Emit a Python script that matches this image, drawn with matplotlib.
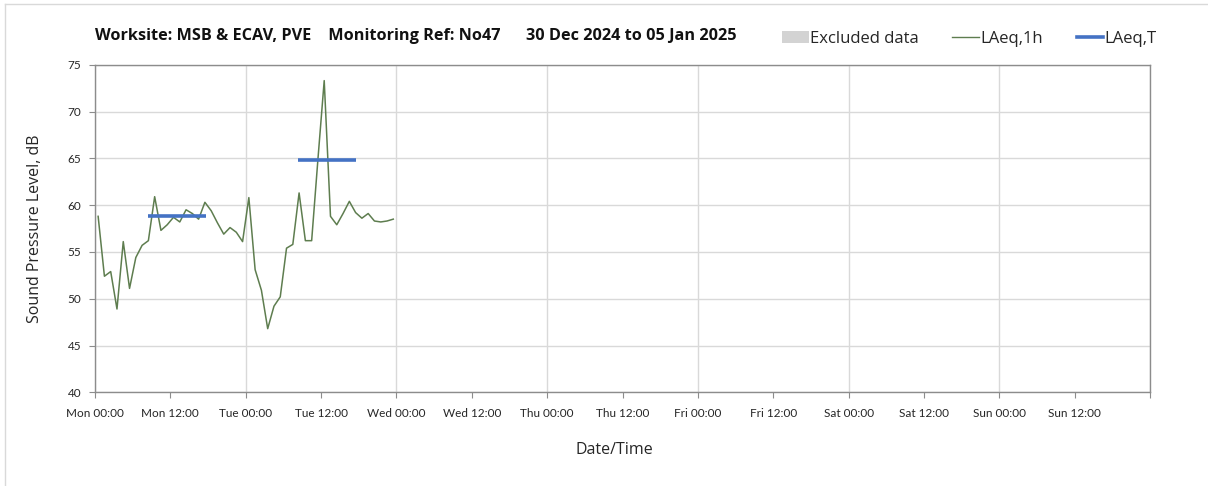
import numpy as np
import matplotlib as mpl
import matplotlib.pyplot as plt
from matplotlib.lines import Line2D
from matplotlib.patches import Patch

mpl.rcParams.update({
    "font.family": ["Lato", "DejaVu Sans"],
    "axes.edgecolor": "#8c8c8c",
    "xtick.color": "#8c8c8c",
    "ytick.color": "#8c8c8c",
    "xtick.labelcolor": "#262626",
    "ytick.labelcolor": "#262626",
})

# hourly LAeq values, Mon 00:30 onwards
laeq_1h = [58.8, 52.4, 52.9, 48.9, 56.1, 51.1, 54.4, 55.7, 56.2, 60.9,
           57.3, 57.9, 58.7, 58.2, 59.5, 59.1, 58.5, 60.3, 59.4, 58.1,
           56.9, 57.6, 57.1, 56.1, 60.8, 53.1, 50.9, 46.8, 49.2, 50.2,
           55.4, 55.8, 61.3, 56.2, 56.2, 64.9, 73.3, 58.8, 57.9, 59.1,
           60.4, 59.2, 58.6, 59.1, 58.3, 58.2, 58.3, 58.5]
hours_1h = np.arange(len(laeq_1h)) + 0.5

# LAeq,T periods (start hour, end hour, level)
laeq_t_start = [8.4, 32.4]
laeq_t_end = [17.6, 41.6]
laeq_t_val = [58.8, 64.8]

days = ["Mon", "Tue", "Wed", "Thu", "Fri", "Sat", "Sun"]
major_labels = [f"{d} 00:00" for d in days] + [""]
minor_labels = [f"{d} 12:00" for d in days]

fig = plt.figure(figsize=(12.08, 4.86), dpi=100)
ax = fig.add_axes([95 / 1208, 1 - 392.3 / 486, 1055 / 1208, 327.6 / 486])

ax.plot(hours_1h, laeq_1h, color="#5e7d4f", lw=1.1, label="LAeq,1h")
for s, e, v in zip(laeq_t_start, laeq_t_end, laeq_t_val):
    ax.plot([s, e], [v, v], color="#4472c4", lw=2.6, solid_capstyle="butt")

ax.set_xlim(0, 168)
ax.set_ylim(40, 75)
ax.set_yticks(np.arange(40, 76, 5))
ax.set_xticks(np.arange(0, 169, 24))
ax.set_xticklabels(major_labels)
ax.set_xticks(np.arange(12, 168, 24), minor=True)
ax.set_xticklabels(minor_labels, minor=True)
ax.tick_params(axis="both", which="both", labelsize=8.5, length=4, width=0.8)
ax.tick_params(axis="x", which="both", pad=7)
ax.tick_params(axis="y", pad=6)
ax.grid(axis="y", color="#d9d9d9", lw=1)
ax.grid(axis="x", which="major", color="#d9d9d9", lw=1)
ax.set_axisbelow(True)
for sp in ax.spines.values():
    sp.set_linewidth(1)

ax.set_ylabel("Sound Pressure Level, dB", fontsize=11.5, color="#262626",
              family=["Open Sans", "DejaVu Sans"], va="center")
ax.yaxis.set_label_coords(-60 / 1055, 0.5)
ax.set_xlabel("Date/Time", fontsize=11.5, color="#262626",
              family=["Open Sans", "DejaVu Sans"], va="center")
ax.xaxis.set_label_coords(519 / 1055, -(450 - 392.3) / 327.6)

fig.text(95 / 1208, 1 - 36 / 486,
         "Worksite: MSB & ECAV, PVE    Monitoring Ref: No47      30 Dec 2024 to 05 Jan 2025",
         fontsize=11.7, fontweight="bold", color="#111111", va="center",
         family=["Open Sans", "DejaVu Sans"])

handles = [Patch(facecolor="#d3d3d3", edgecolor="none"),
           Line2D([], [], color="#5e7d4f", lw=1),
           Line2D([], [], color="#4472c4", lw=2.6)]
fig.legend(handles, ["Excluded data", "LAeq,1h", "LAeq,T"], ncol=3,
           loc="center right", bbox_to_anchor=(1172 / 1208, 1 - 39 / 486),
           frameon=False, handlelength=1.6, handletextpad=0.1,
           columnspacing=2.0, labelcolor="#262626",
           prop={"family": ["Open Sans", "DejaVu Sans"], "size": 12})

# outer chart border (top and left visible)
fig.add_artist(Line2D([5 / 1208, 1], [1 - 4 / 486, 1 - 4 / 486], color="#d9d9d9", lw=1))
fig.add_artist(Line2D([5 / 1208, 5 / 1208], [0, 1 - 4 / 486], color="#d9d9d9", lw=1))

fig.savefig("out.png", dpi=100)
